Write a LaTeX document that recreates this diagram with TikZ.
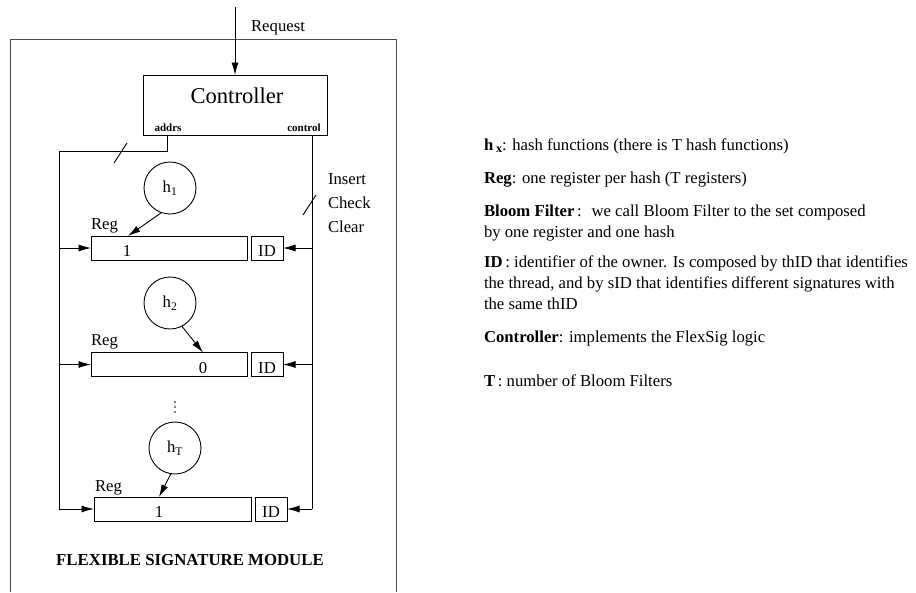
\documentclass[tikz,border=0pt]{standalone}
\usepackage{fontspec}
\setmainfont{Liberation Serif}
\usetikzlibrary{arrows.meta,calc}
\newcommand{\dgfont}{\fontsize{16.7}{21}\selectfont}
\newcommand{\portfont}{\fontsize{11}{13}\selectfont\bfseries}
\begin{document}
\begin{tikzpicture}[x=1pt,y=-1pt,
  every node/.style={inner sep=0pt, outer sep=0pt},
  txt/.style={font=\dgfont},
  cell/.style={draw, line width=0.9pt, minimum height=24pt},
  hashnode/.style={draw, circle, line width=0.9pt, minimum size=52pt, font=\dgfont},
  arr/.style={-{Latex[length=12.5pt,width=7pt]}, line width=0.9pt},
  wire/.style={line width=0.9pt}]
\useasboundingbox (0,0) rectangle (916,592);

% module frame (open at the bottom edge)
\draw[line width=1pt, black!70] (10,592) -- (10,39) -- (396,39) -- (396,592);

% controller
\node[cell, minimum width=184pt, minimum height=60pt] (ctrl) at (235,105) {};
\node[font=\fontsize{22.6}{26}\selectfont, anchor=base] (ctrltxt) at (237,103) {Controller};
\node[font=\portfont, anchor=base] (addrs) at (168,131) {addrs};
\node[font=\portfont, anchor=base] (control) at (304,131) {control};

\coordinate (req) at (235,7);
\draw[arr] (req) -- (ctrl.north);
\node[txt, anchor=base] (reqlbl) at (278,31) {Request};

% registers and owner IDs
\node[cell, minimum width=156pt] (r1) at (169,248) {};
\node[cell, minimum width=32pt] (id1) at (267,248) {};
\node[cell, minimum width=156pt] (r2) at (169,364.5) {};
\node[cell, minimum width=32pt] (id2) at (267,364.5) {};
\node[cell, minimum width=157pt] (r3) at (172.5,509) {};
\node[cell, minimum width=32pt] (id3) at (271,509) {};

\node[txt, anchor=base] (v1) at (127,256) {1};
\node[txt, anchor=base] (v2) at (203,373) {0};
\node[txt, anchor=base] (v3) at (159,517) {1};
\node[txt, anchor=base] (idt1) at (267,256) {ID};
\node[txt, anchor=base] (idt2) at (267,373) {ID};
\node[txt, anchor=base] (idt3) at (271,517) {ID};

\node[txt, anchor=base west] (reg1) at (91,229) {Reg};
\node[txt, anchor=base west] (reg2) at (91,345) {Reg};
\node[txt, anchor=base west] (reg3) at (95,491) {Reg};

% hash functions
\node[hashnode] (h1) at (170,188) {h\textsubscript{1}};
\node[hashnode] (h2) at (170,303) {h\textsubscript{2}};
\node[hashnode] (hT) at (175,448) {h\textsubscript{T}};
% vertical ellipsis between the second and the last filter
\foreach \yy in {402,407,412} \fill (175,\yy) circle (0.9pt);

\draw[arr] (h1.251) -- ($(r1.north west)+(37,0)$);
\draw[arr] (h2.297) -- ($(r2.north west)+(112,0)$);
\draw[arr] (hT.261) -- ($(r3.north west)+(65,0)$);

% address bus
\coordinate (aout) at (167,135);
\coordinate (bus) at (59,151);
\draw[wire] (aout) |- (bus) -- (bus |- r3.west);
\draw[arr] (bus |- r1.west) -- (r1.west);
\draw[arr] (bus |- r2.west) -- (r2.west);
\draw[arr] (bus |- r3.west) -- (r3.west);
\draw[wire] (114,163) -- (127,143);

% control lines
\coordinate (cout) at (312,135);
\draw[wire] (cout) -- (cout |- id3.east);
\draw[arr] (cout |- id1.east) -- (id1.east);
\draw[arr] (cout |- id2.east) -- (id2.east);
\draw[arr] (cout |- id3.east) -- (id3.east);
\draw[wire] (303,215) -- (316,195);
\node[txt, anchor=base west] (ins) at (328,184) {Insert};
\node[txt, anchor=base west] (chk) at (328,208) {Check};
\node[txt, anchor=base west] (clr) at (328,232) {Clear};

\node[font=\fontsize{16.8}{20}\selectfont\bfseries, anchor=base] (title) at (190,565) {FLEXIBLE SIGNATURE MODULE};

% legend
\node[txt, anchor=base west] (lh) at (484,150) {\textbf{h}\,\raisebox{-0.35ex}{\fontsize{12}{12}\selectfont\textbf{x}}: hash functions (there is T hash functions)};
\node[txt, anchor=base west] (lreg) at (484,183) {\textbf{Reg}: one register per hash (T registers)};
\node[txt, anchor=base west] (lbf1) at (484,216) {\textbf{Bloom Filter}\,:~ we call Bloom Filter to the set composed};
\node[txt, anchor=base west] (lbf2) at (484,237) {by one register and one hash};
\node[txt, anchor=base west] (lid1) at (484,267) {\textbf{ID}\,: identifier of the owner. Is composed by thID that identifies};
\node[txt, anchor=base west] (lid2) at (484,288) {the thread, and by sID that identifies different signatures with};
\node[txt, anchor=base west] (lid3) at (484,309) {the same thID};
\node[txt, anchor=base west] (lctl) at (484,342) {\textbf{Controller}: implements the FlexSig logic};
\node[txt, anchor=base west] (lT) at (484,386) {\textbf{T}\,: number of Bloom Filters};
\end{tikzpicture}
\end{document}
